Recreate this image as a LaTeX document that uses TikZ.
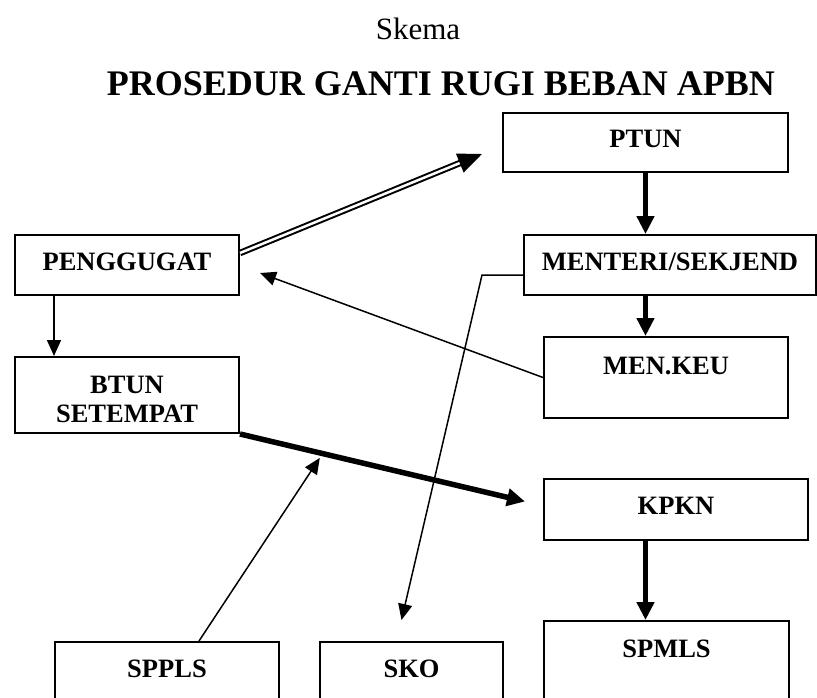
\documentclass[tikz,border=0pt]{standalone}
\usepackage{fontspec}
\setmainfont{Liberation Serif}
\usetikzlibrary{arrows.meta,calc}
\tikzstyle{kotak}=[draw,line width=2pt,inner sep=0pt,anchor=north west,align=center,text height=35pt,font=\fontsize{26.5}{29}\selectfont\bfseries]
\tikzstyle{panah}=[line width=1.5pt,-{Triangle[length=16pt,width=14pt]}]
\tikzstyle{tebal}=[line width=5.5pt,-{Triangle[length=18pt,width=17pt]}]
\tikzstyle{ganda}=[double,double distance=2.5pt,line width=2pt,-{Triangle[length=24pt,width=20pt]}]

\begin{document}
\begin{tikzpicture}[x=1pt,y=-1pt]
\useasboundingbox (0,0) rectangle (817,698);
% judul
\node[anchor=base,font=\fontsize{31}{36}\selectfont] (skema) at (418,40) {Skema};
\node[anchor=base,font=\fontsize{36}{42}\selectfont\bfseries] (judul) at (441,96) {PROSEDUR GANTI RUGI BEBAN APBN};

% kotak
\node[kotak,minimum width=285pt,text depth=24pt] (ptun) at (502,112) {PTUN};
\node[kotak,minimum width=224pt,text depth=25pt] (penggugat) at (14,234) {PENGGUGAT};
\node[kotak,minimum width=292pt,text depth=25pt] (menteri) at (523,234) {MENTERI/SEKJEND};
\node[kotak,minimum width=244pt,text height=37pt,text depth=44pt] (menkeu) at (543,336) {MEN.KEU};
\node[kotak,minimum width=224pt,text height=65pt,text depth=11pt] (btun) at (14,356) {BTUN\\SETEMPAT};
\node[kotak,minimum width=264pt,text depth=26pt] (kpkn) at (543,478) {KPKN};
\node[kotak,minimum width=245pt,text height=36pt,text depth=80pt] (spmls) at (543,620) {SPMLS};
\node[kotak,minimum width=224pt,text depth=60pt] (sppls) at (54,641) {SPPLS};
\node[kotak,minimum width=183pt,text depth=60pt] (sko) at (319,641) {SKO};

% panah
\draw[ganda] ([yshift=12pt]penggugat.east) -- ([xshift=-20pt,yshift=-11.5pt]ptun.west);
\draw[tebal] (ptun.south) -- (ptun.south |- menteri.north);
\draw[tebal] (ptun.south |- menteri.south) -- (ptun.south |- menkeu.north);
\draw[panah] (menkeu.west) -- ([xshift=20pt,yshift=-8pt]penggugat.east);
\draw[panah] ([xshift=40pt]penggugat.south west) -- ([xshift=40pt]btun.north west);
\coordinate (kpknin) at ([xshift=-18pt,yshift=8pt]kpkn.west);
\draw[tebal] (btun.south east) -- (kpknin);
\draw[panah] ([xshift=32pt]sppls.north) -- ($(btun.south east)!0.28!(kpknin)+(0,5)$);
\draw[panah] ([yshift=-10pt]menteri.west) -- ++(-41,0) -- ([xshift=-10pt,yshift=21pt]sko.north);
\draw[tebal] (kpkn.south -| ptun.south) -- (spmls.north -| ptun.south);
\end{tikzpicture}
\end{document}
